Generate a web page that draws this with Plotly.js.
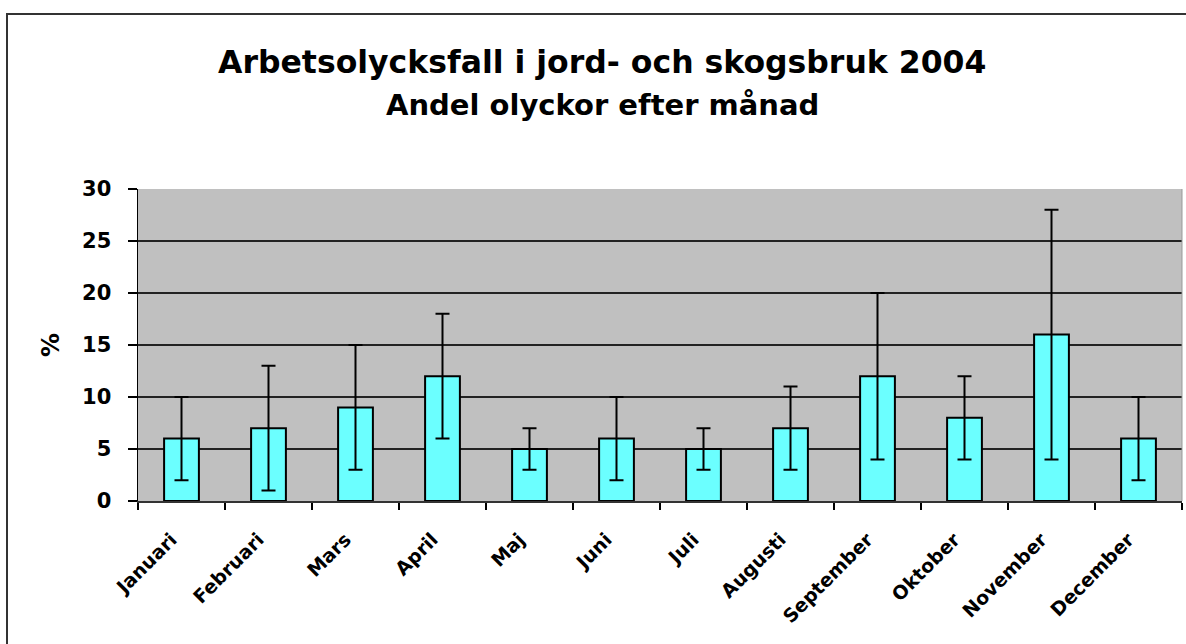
<!DOCTYPE html>
<html><head><meta charset="utf-8">
<script src="https://cdn.plot.ly/plotly-3.0.1.min.js"></script>
<style>html,body{margin:0;padding:0;background:#fff;}#c{width:1186px;height:644px;}</style>
</head><body><div id="c"></div>
<script>
const months = ["Januari","Februari","Mars","April","Maj","Juni","Juli","Augusti","September","Oktober","November","December"];
const shares = [6,7,9,12,5,6,5,7,12,8,16,6];
const upperLimits = [10,13,15,18,7,10,7,11,20,12,28,10];
const lowerLimits = [2,1,3,6,3,2,3,3,4,4,4,2];
const yTicks = [0,5,10,15,20,25,30];

const plus = shares.map((v,i)=>upperLimits[i]-v);
const minus = shares.map((v,i)=>v-lowerLimits[i]);
const F = 'DejaVu Sans, Liberation Sans, Arial, sans-serif';

const trace = {
  type:'bar', x:months, y:shares,
  marker:{color:'#6BFFFF', line:{color:'#000', width:2}},
  error_y:{type:'data', symmetric:false, array:plus, arrayminus:minus, color:'#000', thickness:2, width:7},
  hoverinfo:'x+y'
};
const layout = {
  width:1186, height:644,
  margin:{l:138, r:4, t:189, b:143},
  paper_bgcolor:'#fff', plot_bgcolor:'#C0C0C0',
  bargap:0.6,
  showlegend:false,
  font:{family:F, color:'#000'},
  xaxis:{type:'category', tickangle:-45, tickfont:{size:19, family:F, weight:'bold'},
    ticks:'outside', tickson:'boundaries', ticklen:7, tickcolor:'#000', tickwidth:1.5,
    ticklabelstandoff:18, ticklabelshift:-10,
    showline:true, linecolor:'#333', linewidth:2, showgrid:false, automargin:false},
  yaxis:{range:[0,30], tickvals:yTicks, ticktext:yTicks.map(String), tickfont:{size:21, family:F, weight:'bold'},
    ticks:'outside', ticklen:9, tickcolor:'#000', tickwidth:1.5, ticklabelstandoff:12,
    showline:true, linecolor:'#000', linewidth:1.5, showgrid:true, gridcolor:'#222', gridwidth:1.3, zeroline:false,
    title:{text:'%', font:{size:24, family:F, weight:'bold'}, standoff:15}, automargin:false},
  annotations:[
    {text:'<b>Arbetsolycksfall i jord- och skogsbruk 2004</b>', xref:'paper', yref:'paper', x:(602-138)/1044, y:(501-62)/312, xanchor:'center', yanchor:'middle', showarrow:false, font:{size:31.5, family:F}},
    {text:'<b>Andel olyckor efter månad</b>', xref:'paper', yref:'paper', x:(602-138)/1044, y:(501-105)/312, xanchor:'center', yanchor:'middle', showarrow:false, font:{size:29, family:F}}
  ],
  shapes:[
    {type:'rect', xref:'paper', yref:'paper', x0:(7-138)/1044, x1:1.02, y0:-0.6, y1:(501-14)/312, line:{color:'#333', width:2}, fillcolor:'rgba(0,0,0,0)', layer:'below'},
    {type:'line', xref:'paper', yref:'paper', x0:1, x1:1, y0:0, y1:1, line:{color:'#999', width:1}}
  ]
};
Plotly.newPlot('c',[trace],layout,{displayModeBar:false,staticPlot:true});
</script></body></html>
